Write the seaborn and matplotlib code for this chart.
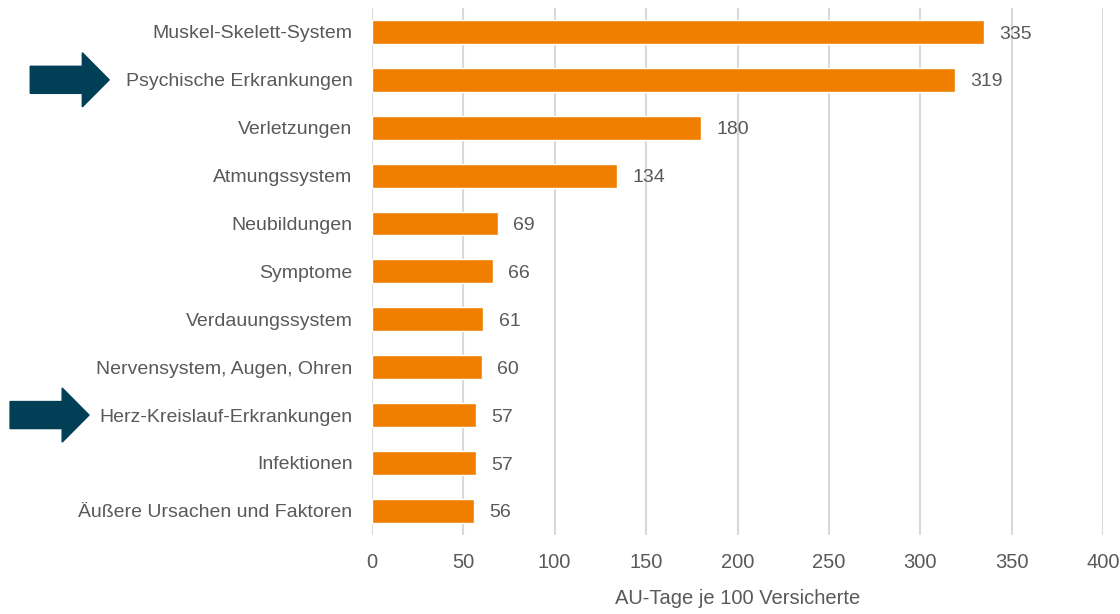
import matplotlib
matplotlib.use("Agg")
import matplotlib.pyplot as plt
import matplotlib.transforms as mtransforms
from matplotlib.patches import FancyArrow
import pandas as pd
import seaborn as sns

# Data
categories = [
    "Muskel-Skelett-System",
    "Psychische Erkrankungen",
    "Verletzungen",
    "Atmungssystem",
    "Neubildungen",
    "Symptome",
    "Verdauungssystem",
    "Nervensystem, Augen, Ohren",
    "Herz-Kreislauf-Erkrankungen",
    "Infektionen",
    "Äußere Ursachen und Faktoren",
]
au_tage = [335, 319, 180, 134, 69, 66, 61, 60, 57, 57, 56]
highlighted = ["Psychische Erkrankungen", "Herz-Kreislauf-Erkrankungen"]
x_ticks = [0, 50, 100, 150, 200, 250, 300, 350, 400]

df = pd.DataFrame({"Kategorie": categories, "AU_Tage": au_tage})

sns.set_theme(style="white")
plt.rcParams["font.family"] = ["Liberation Sans Narrow", "Liberation Sans", "DejaVu Sans"]

text_col = "#595959"
bar_col = "#F07F00"
arrow_col = "#003F55"

fig, ax = plt.subplots(figsize=(11.2, 6.14), dpi=100)
fig.subplots_adjust(left=0.332, right=0.985, top=0.987, bottom=0.129)

sns.barplot(data=df, x="AU_Tage", y="Kategorie", order=categories, orient="h",
            color=bar_col, width=0.5, saturation=1, ax=ax)

ax.set_xlim(0, 400)
ax.set_ylim(len(categories) - 0.5, -0.5)
ax.set_xticks(x_ticks)
ax.xaxis.grid(True, color="#D9D9D9", linewidth=1.5)
ax.set_axisbelow(True)
for s in ax.spines.values():
    s.set_visible(False)
ax.tick_params(axis="both", length=0, labelsize=14, labelcolor=text_col)
ax.tick_params(axis="x", pad=13, labelsize=14.5)
ax.tick_params(axis="y", pad=14)
ax.set_ylabel("")
ax.set_xlabel("AU-Tage je 100 Versicherte", fontsize=14.5, color=text_col, labelpad=12)

# value labels
for i, v in enumerate(au_tage):
    ax.annotate(f"{v}", (v, i), xytext=(11, -1.5), textcoords="offset points",
                va="center", ha="left", fontsize=14, color=text_col)

# highlight arrows
trans = mtransforms.blended_transform_factory(fig.transFigure, ax.transData)
starts = {"Psychische Erkrankungen": 0.027, "Herz-Kreislauf-Erkrankungen": 0.009}
for name in highlighted:
    yi = categories.index(name)
    arr = FancyArrow(starts[name], yi, 0.0705, 0, width=0.565, head_width=1.13,
                     head_length=0.024, length_includes_head=True,
                     transform=trans, color=arrow_col, clip_on=False)
    fig.patches.append(arr)

plt.savefig("out.png", dpi=100)
plt.close()
